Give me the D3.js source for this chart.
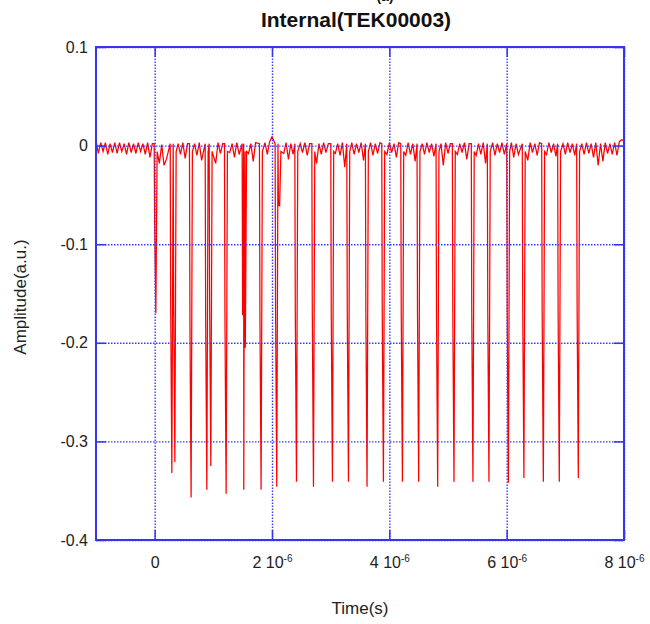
<!DOCTYPE html>
<html lang="en">
<head>
    <meta charset="UTF-8">
    <title>Internal(TEK00003)</title>
    <script src="https://d3js.org/d3.v7.min.js"></script>
    <style>
        body { margin: 0; background: #fff; }
        svg { font-family: "Liberation Sans", Arial, sans-serif; }
        .title { font-size: 21px; font-weight: bold; text-anchor: middle; fill: #111; }
        .label { font-size: 17px; fill: #222; text-anchor: middle; }
        .axis text { font-size: 16px; fill: #222; font-family: "Liberation Sans", Arial, sans-serif; }
        .axis path { display: none; }
        .axis line { stroke: #3535f0; stroke-width: 1.5; }
        .grid line { stroke: #3a3aff; stroke-width: 1.4; stroke-dasharray: 1.5,1.5; }
        .grid path { display: none; }
        .signal { fill: none; stroke: #ff0000; stroke-width: 1.25; stroke-linejoin: miter; }
        .frame { fill: none; stroke: #3535f0; stroke-width: 2; }
    </style>
</head>
<body>
    <svg id="chart" width="650" height="624"></svg>

    <script>
        // tick values (x in microseconds)
        var xTicks = [0, 2, 4, 6, 8];
        var xTickLabels = ["0", "2 10|-6", "4 10|-6", "6 10|-6", "8 10|-6"];
        var yTicks = [0.1, 0, -0.1, -0.2, -0.3, -0.4];
        var yTickLabels = ["0.1", "0", "-0.1", "-0.2", "-0.3", "-0.4"];

        // baseline samples, one every 0.04 us starting at -1 us
        var baseStart = -1, baseStep = 0.04;
        var baseline = [
            0.005, -0.008, 0.003, -0.006, 0.003, -0.009, 0.002, -0.007, 0.003, -0.008,
            0.003, -0.006, 0.002, -0.009, 0.003, -0.007, 0.002, -0.008, 0.003, -0.006,
            0.002, -0.009, 0.003, -0.012, 0.002, -0.010, -0.021, -0.018, 0.001, -0.020,
            -0.014, 0.002, -0.011, 0.003, -0.024, 0.002, -0.009, 0.003, -0.013, 0.002,
            -0.008, -0.028, 0.002, -0.010, 0.003, -0.015, 0.002, -0.026, 0.003, -0.009,
            0.002, -0.018, 0.003, -0.008, 0.002, -0.030, 0.003, -0.007, 0.002, -0.012,
            0.003, -0.009, 0.002, -0.022, 0.003, -0.008, 0.002, -0.016, 0.003, -0.010,
            0.002, -0.028, 0.003, -0.009, 0.004, 0.009, -0.012, 0.003, -0.025, 0.002,
            -0.008, 0.003, -0.014, 0.002, -0.009, 0.003, -0.020, 0.002, -0.007, 0.003,
            -0.010, 0.002, -0.008, 0.003, -0.018, 0.002, -0.009, 0.003, -0.007, 0.002,
            -0.012, 0.003, -0.008, 0.002, -0.010, 0.003, -0.022, 0.002, -0.008, 0.003,
            -0.009, 0.002, -0.007, 0.003, -0.015, 0.002, -0.008, 0.003, -0.010, 0.002,
            -0.008, 0.003, -0.020, 0.002, -0.009, 0.003, -0.007, 0.002, -0.012, 0.003,
            -0.008, 0.002, -0.010, 0.003, -0.009, 0.002, -0.016, 0.003, -0.008, 0.002,
            -0.009, 0.003, -0.007, 0.002, -0.011, 0.003, -0.008, 0.002, -0.020, 0.003,
            -0.008, 0.002, -0.010, 0.003, -0.009, 0.002, -0.007, 0.003, -0.014, 0.002,
            -0.008, 0.003, -0.010, 0.002, -0.009, 0.003, -0.018, 0.002, -0.008, 0.003,
            -0.010, 0.002, -0.007, 0.003, -0.009, 0.002, -0.008, 0.003, -0.012, 0.002,
            -0.009, 0.003, -0.008, 0.002, -0.015, 0.003, -0.007, 0.002, -0.010, 0.003,
            -0.008, 0.002, -0.009, 0.003, -0.007, 0.002, -0.011, 0.003, -0.008, 0.002,
            -0.009, 0.003, -0.007, 0.002, -0.010, 0.003, -0.008, 0.002, -0.009, 0.003,
            -0.008, 0.002, -0.012, 0.003, -0.020, 0.002, -0.016, 0.003, -0.008, 0.002,
            -0.009, 0.003, -0.010, 0.004, 0.006, 0.005
        ];

        // pulses: time (us), first sample, bottom sample
        var pulseTimes = [0, 0.273, 0.324, 0.601, 0.869, 0.937, 1.198, 1.499, 1.525, 1.794,
            2.061, 2.11, 2.397, 2.687, 3.010, 3.283, 3.600, 3.879, 4.203, 4.480,
            4.804, 5.082, 5.405, 5.678, 6.009, 6.274, 6.605, 6.877, 7.201];
        var pulseShallow = [-0.082, -0.163, -0.158, -0.176, -0.172, -0.160, -0.174, -0.172, -0.172, -0.172,
            -0.170, -0.061, -0.168, -0.170, -0.169, -0.168, -0.170, -0.169, -0.169, -0.169,
            -0.170, -0.169, -0.169, -0.169, -0.168, -0.166, -0.168, -0.169, -0.166];
        var pulseDeep = [-0.170, -0.332, -0.321, -0.357, -0.349, -0.325, -0.353, -0.349, -0.205, -0.349,
            -0.346, -0.061, -0.341, -0.346, -0.341, -0.341, -0.346, -0.341, -0.341, -0.341,
            -0.346, -0.341, -0.341, -0.341, -0.342, -0.337, -0.341, -0.341, -0.337];

        var margin = { top: 47, right: 26, bottom: 84, left: 96 },
            width = 650 - margin.left - margin.right,
            height = 624 - margin.top - margin.bottom;

        var root = d3.select("#chart");
        var svg = root.append("g")
            .attr("transform", "translate(" + margin.left + "," + margin.top + ")");

        var x = d3.scaleLinear().domain([-1, 8]).range([0, width]);
        var y = d3.scaleLinear().domain([-0.4, 0.1]).range([height, 0]);

        // build the trace: baseline samples, with each pulse dropping
        // almost straight down from the baseline and coming straight back
        var points = [];
        baseline.forEach(function (v, i) {
            var t = baseStart + i * baseStep;
            var near = pulseTimes.some(function (p) { return t > p - 0.035 && t < p + 0.07; });
            if (!near) points.push([t, v]);
        });
        pulseTimes.forEach(function (p, i) {
            points.push([p - 0.008, 0.002]);
            points.push([p, pulseShallow[i]]);
            points.push([p + 0.02, pulseDeep[i]]);
            points.push([p + 0.042, -0.006]);
        });
        points.sort(function (a, b) { return a[0] - b[0]; });

        svg.append("clipPath").attr("id", "clip")
            .append("rect").attr("width", width).attr("height", height);

        var line = d3.line()
            .x(function (d) { return x(d[0]); })
            .y(function (d) { return y(d[1]); });

        svg.append("path")
            .datum(points)
            .attr("class", "signal")
            .attr("clip-path", "url(#clip)")
            .attr("d", line);

        // dotted grid
        svg.append("g")
            .attr("class", "grid")
            .attr("transform", "translate(0," + height + ")")
            .call(d3.axisBottom(x).tickValues(xTicks).tickSize(-height).tickFormat(""));
        svg.append("g")
            .attr("class", "grid")
            .call(d3.axisLeft(y).tickValues(yTicks).tickSize(-width).tickFormat(""));

        // axes with inward ticks
        var xAxis = svg.append("g")
            .attr("class", "axis")
            .attr("transform", "translate(0," + height + ")")
            .call(d3.axisBottom(x).tickValues(xTicks).tickSize(-10).tickPadding(17)
                .tickFormat(function (d, i) { return xTickLabels[i]; }));

        xAxis.selectAll("text").each(function () {
            var parts = d3.select(this).text().split("|");
            var t = d3.select(this).text(null);
            t.append("tspan").text(parts[0]);
            if (parts[1]) {
                t.append("tspan").attr("dy", "-0.6em").attr("font-size", "10px").text(parts[1]);
            }
        });

        svg.append("g")
            .attr("class", "axis")
            .call(d3.axisTop(x).tickValues(xTicks).tickSize(-10).tickFormat(""));

        svg.append("g")
            .attr("class", "axis")
            .call(d3.axisLeft(y).tickValues(yTicks).tickSize(-10).tickPadding(8)
                .tickFormat(function (d, i) { return yTickLabels[i]; }));

        svg.append("g")
            .attr("class", "axis")
            .attr("transform", "translate(" + width + ",0)")
            .call(d3.axisRight(y).tickValues(yTicks).tickSize(-10).tickFormat(""));

        svg.append("rect")
            .attr("class", "frame")
            .attr("width", width)
            .attr("height", height);

        // titles
        root.append("text")
            .attr("class", "title")
            .attr("x", 385)
            .attr("y", 1)
            .style("font-size", "14px")
            .text("(a)");

        root.append("text")
            .attr("class", "title")
            .attr("x", margin.left + width / 2 - 4)
            .attr("y", 27)
            .text("Internal(TEK00003)");

        root.append("text")
            .attr("class", "label")
            .attr("x", margin.left + width / 2)
            .attr("y", 614)
            .text("Time(s)");

        root.append("text")
            .attr("class", "label")
            .attr("transform", "rotate(-90)")
            .attr("x", -297)
            .attr("y", 26)
            .text("Amplitude(a.u.)");
    </script>
</body>
</html>
